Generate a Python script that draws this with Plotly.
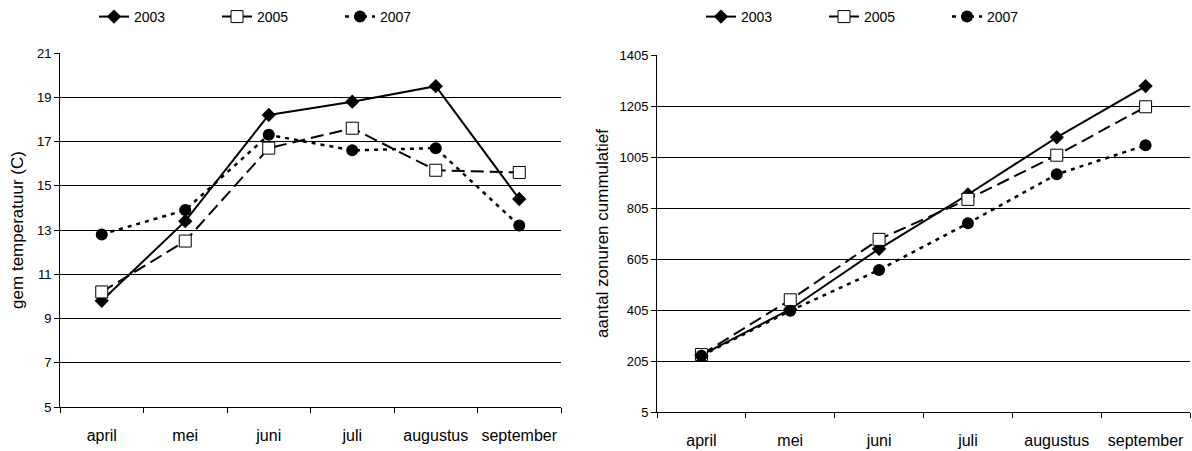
import plotly.graph_objects as go
from plotly.subplots import make_subplots

# maanden
maanden = ['april', 'mei', 'juni', 'juli', 'augustus', 'september']
jaren = ['2003', '2005', '2007']

# gemiddelde temperatuur (C)
temp_2003 = [9.8, 13.4, 18.2, 18.8, 19.5, 14.4]
temp_2005 = [10.2, 12.5, 16.7, 17.6, 15.7, 15.6]
temp_2007 = [12.8, 13.9, 17.3, 16.6, 16.7, 13.2]

# zonuren cummulatief
zon_2003 = [228, 408, 645, 858, 1082, 1283]
zon_2005 = [230, 445, 682, 839, 1012, 1202]
zon_2007 = [226, 402, 562, 745, 937, 1051]

# stijl per jaar
stijl = {
    '2003': dict(line=dict(color='black', width=2, dash='solid'),
                 marker=dict(symbol='diamond', size=11, color='black')),
    '2005': dict(line=dict(color='black', width=2, dash='13px,6px'),
                 marker=dict(symbol='square', size=12, color='white',
                             line=dict(color='black', width=1))),
    '2007': dict(line=dict(color='black', width=2.5, dash='4px,5px'),
                 marker=dict(symbol='circle', size=12, color='black')),
}

fig = make_subplots(rows=1, cols=2)

links = {'2003': temp_2003, '2005': temp_2005, '2007': temp_2007}
rechts = {'2003': zon_2003, '2005': zon_2005, '2007': zon_2007}

for j in jaren:
    fig.add_trace(go.Scatter(x=maanden, y=links[j], name=j, mode='lines+markers',
                             legend='legend', **stijl[j]), 1, 1)
for j in jaren:
    fig.add_trace(go.Scatter(x=maanden, y=rechts[j], name=j, mode='lines+markers',
                             legend='legend2', **stijl[j]), 1, 2)

fam = 'Liberation Sans, Arial, sans-serif'
font = dict(family=fam, size=13, color='black')

xas = dict(range=[-0.5, 5.5], showline=True, linecolor='black', linewidth=1,
           ticks='outside', tickson='boundaries', ticklen=5, tickcolor='black',
           showgrid=False, ticklabelstandoff=14, zeroline=False, tickangle=0,
           automargin=False,
           tickfont=dict(family=fam, size=16, color='black'))
yas = dict(showline=True, linecolor='black', linewidth=1, ticks='outside',
           ticklen=5, tickcolor='black', showgrid=True, gridcolor='black',
           gridwidth=1, zeroline=False, automargin=False,
           tickfont=dict(family=fam, size=13, color='black'))

fig.update_xaxes(domain=[60 / 1192, 561 / 1192], row=1, col=1, **xas)
fig.update_xaxes(domain=[657 / 1192, 1190 / 1192], row=1, col=2, **xas)
fig.update_yaxes(domain=[44 / 451, 398 / 451], range=[5, 21], tick0=5, dtick=2,
                 title=dict(text='gem temperatuur (C)', standoff=8,
                            font=dict(family=fam, size=17, color='black')),
                 row=1, col=1, **yas)
fig.update_yaxes(domain=[39 / 451, 396 / 451], range=[5, 1405], tick0=5, dtick=200,
                 title=dict(text='aantal zonuren cummulatief', standoff=6,
                            font=dict(family=fam, size=17, color='black')),
                 row=1, col=2, **yas)

leg = dict(orientation='h', yanchor='middle', xanchor='left', y=1 - 17 / 451,
           entrywidth=78, entrywidthmode='pixels', font=dict(family=fam, size=14),
           bgcolor='rgba(0,0,0,0)')
fig.update_layout(
    width=1192, height=451,
    margin=dict(l=0, r=0, t=0, b=0),
    plot_bgcolor='white', paper_bgcolor='white',
    font=font,
    legend=dict(x=94 / 1192, **leg),
    legend2=dict(x=701 / 1192, **leg),
)

fig.write_html('out.html', config={'displayModeBar': False},
               post_script="document.body.style.margin='0';")
